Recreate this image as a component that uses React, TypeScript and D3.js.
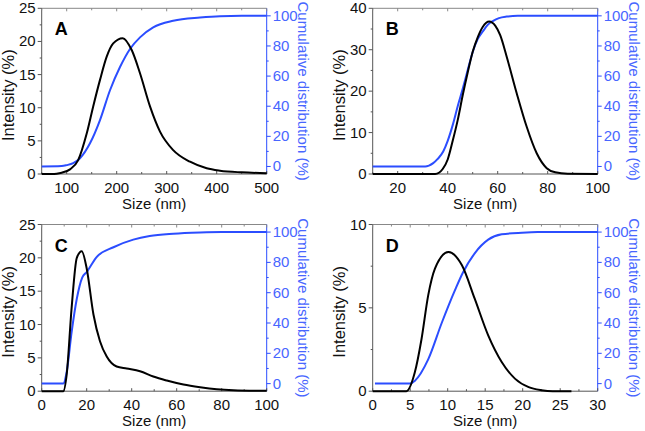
import React from "react";
import * as d3 from "d3";

// ---- Data ----
const aIntensityX = [50, 70, 80, 90, 106.6, 123, 140, 153, 166.6, 180, 193, 212, 230, 246.6, 266.6, 286.6, 313, 346.6, 380, 406.6, 450, 500];
const aIntensityY = [0, 0, 0.05, 0.2, 0.7, 2.1, 6.1, 10.2, 14.2, 17.7, 19.7, 20.5, 18.7, 15.2, 10.2, 6.4, 3.6, 1.85, 0.86, 0.5, 0.25, 0.12];
const aCumX = [50, 90, 100, 113, 126.6, 146.6, 166.6, 186.6, 206.6, 226.6, 246.6, 273, 313, 366.6, 406.6, 450, 500];
const aCumY = [0, 0.3, 0.9, 2.2, 5.5, 15.4, 30.8, 50.6, 66, 78, 85.7, 92.3, 96.7, 98.9, 99.8, 100, 100];

const bIntensityX = [10, 35, 36.5, 38, 40, 42, 44, 46, 48, 50, 52, 54, 56.6, 59, 61, 63.6, 67.6, 71.6, 75.6, 79.6, 83, 88, 100];
const bIntensityY = [0, 0, 0.3, 1.2, 3.5, 8, 13, 19, 24.5, 29.5, 33, 35.5, 36.8, 35.8, 33.5, 28.3, 19.5, 11.4, 5, 1.4, 0.4, 0.05, 0];
const bCumX = [10, 31, 32.5, 34.2, 36, 38.2, 40, 42.2, 44, 46.2, 48, 50.2, 52, 54.2, 56, 58.2, 60.5, 63.6, 68, 100];
const bCumY = [0, 0, 0.6, 2.2, 5, 9.9, 17, 28.6, 40, 52.7, 64, 77, 84.5, 90, 94, 96.7, 98.5, 99.5, 100, 100];

const cIntensityX = [0, 9.6, 11.1, 13.3, 15.6, 17.8, 20, 23, 25.9, 28.9, 33.3, 37.8, 43.7, 49.6, 55.6, 63, 70.4, 77.8, 85.2, 100];
const cIntensityY = [0, 0, 2.5, 12.5, 20, 21, 18.4, 11.5, 7.5, 5.2, 3.7, 3.4, 3.0, 2.2, 1.6, 1.0, 0.6, 0.3, 0.15, 0.05];
const cCumX = [0, 9.6, 11.1, 13.3, 15.6, 18, 20, 24.4, 31.9, 40.7, 48, 58.5, 70.4, 80, 100];
const cCumY = [0, 0, 7.7, 34, 56, 70, 73.6, 83.5, 90, 95, 97.4, 98.9, 99.7, 100, 100];

const dIntensityX = [0, 4.5, 5.6, 6.5, 7.4, 8.3, 10.1, 11.9, 13.6, 15.4, 17.2, 19, 20.8, 22.5, 24, 26.5];
const dIntensityY = [0, 0, 1.1, 3.1, 5.75, 7.35, 8.35, 7.55, 5.55, 3.35, 1.75, 0.74, 0.24, 0.06, 0, 0];
const dCumX = [0.3, 5, 5.6, 7.4, 9.2, 11, 12, 13.6, 15.4, 17.2, 19.9, 22, 30];
const dCumY = [0, 0, 1.8, 16, 40, 62, 73, 86, 95, 98.5, 99.6, 100, 100];

const panelLetters = ["A", "B", "C", "D"];
const xDomains: [number, number][] = [[50, 500], [10, 100], [0, 100], [0, 30]];
const yDomains: [number, number][] = [[0, 25], [0, 40], [0, 25], [0, 10]];
const xTickValues = [[100, 200, 300, 400, 500], [20, 40, 60, 80, 100], [0, 20, 40, 60, 80, 100], [0, 5, 10, 15, 20, 25, 30]];
const xMinorStep = [50, 10, 10, 2.5];
const yTickValues = [[0, 5, 10, 15, 20, 25], [0, 10, 20, 30, 40], [0, 5, 10, 15, 20, 25], [0, 5, 10]];
const yMinorStep = [2.5, 5, 2.5, 2.5];
const cumDomain: [number, number] = [-5, 105];
const cumTicks = [0, 20, 40, 60, 80, 100];

const intensityXs = [aIntensityX, bIntensityX, cIntensityX, dIntensityX];
const intensityYs = [aIntensityY, bIntensityY, cIntensityY, dIntensityY];
const cumXs = [aCumX, bCumX, cCumX, dCumX];
const cumYs = [aCumY, bCumY, cCumY, dCumY];

const BLUE_LINE = "#2b4dff";
const BLUE_TEXT = "#4866ff";
const FRAME = "#555";
const FONT = "'Liberation Sans', Arial, sans-serif";

const rects = [
  { x0: 41.7, x1: 266.7, y0: 8.3, y1: 174 },
  { x0: 372.7, x1: 597.7, y0: 8.3, y1: 174 },
  { x0: 41.7, x1: 266.7, y0: 224.5, y1: 391.2 },
  { x0: 372.7, x1: 597.7, y0: 224.5, y1: 391.2 },
];

function minorTicks(domain: [number, number], step: number, majors: number[]) {
  const out: number[] = [];
  const start = Math.ceil(domain[0] / step) * step;
  for (let v = start; v <= domain[1] + 1e-9; v += step) {
    if (!majors.some((m) => Math.abs(m - v) < 1e-9)) out.push(v);
  }
  return out;
}

function Panel({ i }: { i: number }) {
  const r = rects[i];
  const x = d3.scaleLinear().domain(xDomains[i]).range([r.x0, r.x1]);
  const y = d3.scaleLinear().domain(yDomains[i]).range([r.y1, r.y0]);
  const yc = d3.scaleLinear().domain(cumDomain).range([r.y1, r.y0]);

  const intData = intensityXs[i].map((v, k) => [v, intensityYs[i][k]] as [number, number]);
  const cumData = cumXs[i].map((v, k) => [v, cumYs[i][k]] as [number, number]);
  const lineI = d3.line<[number, number]>().x((d) => x(d[0])).y((d) => y(d[1])).curve(d3.curveMonotoneX);
  const lineC = d3.line<[number, number]>().x((d) => x(d[0])).y((d) => yc(d[1])).curve(d3.curveMonotoneX);

  const xMajors = xTickValues[i];
  const xMinors = minorTicks(xDomains[i], xMinorStep[i], xMajors);
  const yMajors = yTickValues[i];
  const yMinors = minorTicks(yDomains[i], yMinorStep[i], yMajors);
  const cMinors = minorTicks([0, 100], 10, cumTicks);
  const cx = (r.x0 + r.x1) / 2;
  const cy = (r.y0 + r.y1) / 2;

  return (
    <g>
      {/* frame */}
      <line x1={r.x0} x2={r.x1} y1={r.y0} y2={r.y0} stroke="#888" strokeWidth={1} />
      <line x1={r.x0} x2={r.x1} y1={r.y1} y2={r.y1} stroke={FRAME} strokeWidth={1} />
      <line x1={r.x0} x2={r.x0} y1={r.y0} y2={r.y1} stroke={FRAME} strokeWidth={1} />
      <line x1={r.x1} x2={r.x1} y1={r.y0} y2={r.y1} stroke={BLUE_LINE} strokeWidth={1} />

      {/* bottom & top ticks (inward) */}
      {xMajors.map((v) => (
        <g key={"xm" + v}>
          <line x1={x(v)} x2={x(v)} y1={r.y1} y2={r.y1 - 3} stroke={FRAME} />
          <line x1={x(v)} x2={x(v)} y1={r.y0} y2={r.y0 + 3} stroke="#888" />
          <text x={x(v)} y={r.y1 + 18.5} textAnchor="middle" fontSize={15} fontFamily={FONT} fill="#111">{v}</text>
        </g>
      ))}
      {xMinors.map((v) => (
        <g key={"xn" + v}>
          <line x1={x(v)} x2={x(v)} y1={r.y1} y2={r.y1 - 2} stroke={FRAME} />
          <line x1={x(v)} x2={x(v)} y1={r.y0} y2={r.y0 + 2} stroke="#888" />
        </g>
      ))}

      {/* left ticks (outward) */}
      {yMajors.map((v) => (
        <g key={"ym" + v}>
          <line x1={r.x0} x2={r.x0 - 4} y1={y(v)} y2={y(v)} stroke={FRAME} />
          <text x={r.x0 - 6} y={y(v) + 5} textAnchor="end" fontSize={15} fontFamily={FONT} fill="#111">{v}</text>
        </g>
      ))}
      {yMinors.map((v) => (
        <line key={"yn" + v} x1={r.x0} x2={r.x0 - 2} y1={y(v)} y2={y(v)} stroke={FRAME} />
      ))}

      {/* right ticks (outward, blue) */}
      {cumTicks.map((v) => (
        <g key={"cm" + v}>
          <line x1={r.x1} x2={r.x1 + 4} y1={yc(v)} y2={yc(v)} stroke={BLUE_LINE} />
          <text x={r.x1 + 6} y={yc(v) + 5} textAnchor="start" fontSize={15} fontFamily={FONT} fill={BLUE_TEXT}>{v}</text>
        </g>
      ))}
      {cMinors.map((v) => (
        <line key={"cn" + v} x1={r.x1} x2={r.x1 + 2} y1={yc(v)} y2={yc(v)} stroke={BLUE_LINE} />
      ))}

      {/* curves */}
      <path d={lineC(cumData) || ""} fill="none" stroke={BLUE_LINE} strokeWidth={2} />
      <path d={lineI(intData) || ""} fill="none" stroke="#000" strokeWidth={2} />

      {/* labels */}
      <text x={cx} y={r.y1 + 35} textAnchor="middle" fontSize={15} fontFamily={FONT} fill="#111">Size (nm)</text>
      <text transform={`translate(${r.x0 - 28},${cy + 4}) rotate(-90)`} textAnchor="middle" fontSize={16.5} fontFamily={FONT} fill="#111">Intensity (%)</text>
      <text transform={`translate(${r.x1 + 31},${cy}) rotate(90)`} textAnchor="middle" fontSize={15} fontFamily={FONT} fill={BLUE_TEXT}>Cumulative distribution (%)</text>
      <text x={r.x0 + 13} y={r.y0 + 27} fontSize={18} fontWeight="bold" fontFamily={FONT} fill="#000">{panelLetters[i]}</text>
    </g>
  );
}

export default function App() {
  return (
    <div style={{ position: "fixed", left: 0, top: 0 }}>
      <svg width={645} height={431} style={{ display: "block", background: "#fff" }}>
        {[0, 1, 2, 3].map((i) => (
          <Panel key={i} i={i} />
        ))}
      </svg>
    </div>
  );
}
